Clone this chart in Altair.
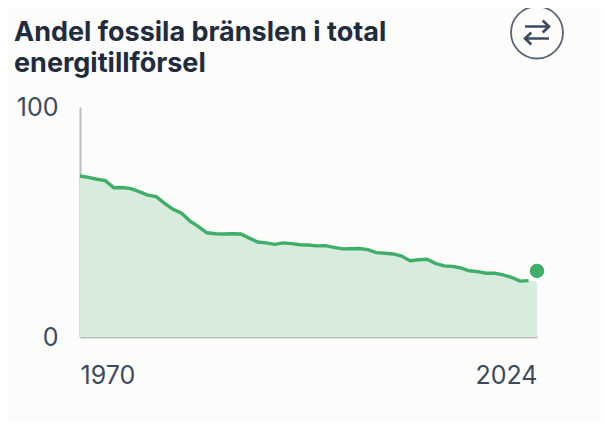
import altair as alt
import pandas as pd

years = list(range(1970, 2025))
share = [70.0, 69.4, 68.6, 68.0, 64.9, 65.0, 64.5, 63.2, 61.7, 61.0,
         58.1, 55.5, 53.8, 50.4, 48.0, 45.3, 44.9, 44.8, 44.9, 44.8,
         43.0, 41.3, 40.9, 40.3, 40.9, 40.6, 40.1, 40.0, 39.6, 39.7,
         39.0, 38.3, 38.4, 38.5, 38.0, 36.7, 36.4, 36.1, 35.2, 33.2,
         33.6, 33.8, 32.0, 30.9, 30.7, 30.0, 28.8, 28.4, 27.7, 27.7,
         27.0, 25.9, 24.3, 24.5, 24.0]
marker_year = [2024]
marker_value = [28.7]
title_lines = ["Andel fossila bränslen i total", "energitillförsel"]

TEXT = "#3c4a5e"
GREEN = "#3fae68"
BG = "#fcfcfa"

df = pd.DataFrame({"year": years, "share": share})
df_line = df[df.year < 2024]
df_dot = pd.DataFrame({"year": marker_year, "share": marker_value})

x = alt.X("year:Q", scale=alt.Scale(domain=[1970, 2024], nice=False),
          axis=alt.Axis(values=[1970, 2024], format="d", title=None, grid=False,
                        ticks=False, labelFlush=True, labelPadding=26,
                        labelFontSize=25, labelColor=TEXT, labelFont="Inter",
                        domainColor="#bdbdbd", domainWidth=2))
y = alt.Y("share:Q", scale=alt.Scale(domain=[0, 100], nice=False),
          axis=alt.Axis(values=[0, 100], title=None, grid=False, ticks=False,
                        labelPadding=22, labelFontSize=25, labelColor=TEXT,
                        labelFont="Inter", domainColor="#bdbdbd", domainWidth=2))

area = alt.Chart(df).mark_area(color="#d8ecde").encode(x=x, y=y)
line = alt.Chart(df_line).mark_line(color=GREEN, strokeWidth=3.4).encode(x=x, y=y)
dot = alt.Chart(df_dot).mark_circle(color=GREEN, opacity=1, size=272,
                                    stroke="white", strokeWidth=2).encode(x=x, y=y)

icon_df = pd.DataFrame({"k": ["icon"]})
ring = alt.Chart(icon_df).mark_point(shape="circle", size=2704, filled=False,
                                     stroke="#5a6676", strokeWidth=1.8, opacity=1).encode(
    x=alt.value(457), y=alt.value(-74.5))
arrows = alt.Chart(icon_df).mark_point(
    shape="M-0.46,-0.23H0.46M0.22,-0.46L0.46,-0.23L0.22,0M0.46,0.23H-0.46M-0.22,0L-0.46,0.23L-0.22,0.46",
    size=2704, filled=False, stroke="#3c4a5e", strokeWidth=2.6, opacity=1).encode(
    x=alt.value(457), y=alt.value(-74.5))

chart = (area + line + dot + ring + arrows).properties(
    width=457, height=230,
    background=BG,
    autosize=alt.AutoSizeParams(type="none"),
    padding={"left": 72, "top": 99, "right": 68, "bottom": 85},
    title=alt.TitleParams(text=title_lines, anchor="start", frame="group",
                          font="Inter", fontSize=27, fontWeight=700, color="#1f2b3e",
                          lineHeight=31, dx=-66, offset=-96, baseline="alphabetic"),
).configure_view(stroke=None)

chart.save("out.html", embed_options={"renderer": "svg", "actions": False})
